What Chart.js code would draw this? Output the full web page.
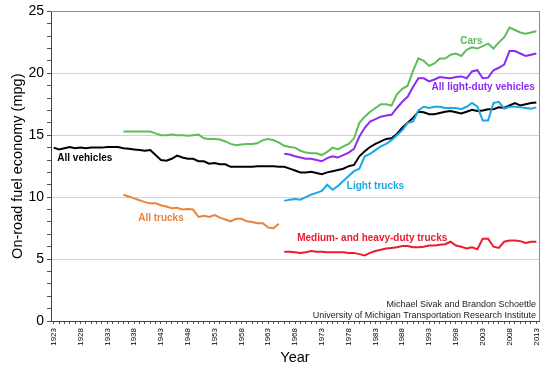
<!DOCTYPE html>
<html>
<head>
<meta charset="utf-8">
<script src="https://cdn.jsdelivr.net/npm/chart.js@4"></script>
<style>
  html, body { margin: 0; padding: 0; background: #fff; }
  canvas { display: block; }
</style>
</head>
<body>
<canvas id="myChart" width="550" height="370"></canvas>
<script>
const years = [];
for (let y = 1923; y <= 2013; y++) years.push(y);

const xTickLabels = [1923, 1928, 1933, 1938, 1943, 1948, 1953, 1958, 1963, 1968,
    1973, 1978, 1983, 1988, 1993, 1998, 2003, 2008, 2013];
const yTickLabels = [0, 5, 10, 15, 20, 25];

// 1923-2013
const allVehicles = [
    14.0, 13.85, 13.95, 14.05, 13.95, 14.0, 13.95, 14.0, 14.0, 14.0,
    14.05, 14.05, 14.05, 13.95, 13.9, 13.85, 13.8, 13.75, 13.8, 13.4,
    13.0, 12.95, 13.1, 13.35, 13.2, 13.1, 13.1, 12.9, 12.9, 12.7,
    12.75, 12.65, 12.65, 12.45, 12.45, 12.45, 12.45, 12.45, 12.5, 12.5,
    12.5, 12.5, 12.45, 12.45, 12.3, 12.15, 12.0, 12.0, 12.05, 11.95,
    11.85, 12.0, 12.1, 12.2, 12.3, 12.5, 12.6, 13.3, 13.7, 14.05,
    14.3, 14.5, 14.7, 14.75, 15.1, 15.6, 16.0, 16.4, 16.9, 16.85,
    16.7, 16.7, 16.8, 16.9, 16.95, 16.85, 16.75, 16.9, 17.05, 16.95,
    17.0, 17.1, 17.1, 17.25, 17.2, 17.4, 17.6, 17.4, 17.5, 17.6,
    17.65
];

// 1936-2013
const cars = [
    15.3, 15.3, 15.3, 15.3, 15.3, 15.3, 15.15, 15.0, 15.0, 15.05,
    15.0, 15.0, 14.95, 15.0, 15.05, 14.75, 14.7, 14.7, 14.65, 14.5,
    14.3, 14.2, 14.25, 14.3, 14.3, 14.35, 14.6, 14.7, 14.6, 14.4,
    14.15, 14.05, 14.0, 13.75, 13.6, 13.55, 13.55, 13.4, 13.65, 14.0,
    13.85, 14.1, 14.3, 14.75, 16.0, 16.5, 16.9, 17.2, 17.5, 17.5,
    17.4, 18.3, 18.75, 19.0, 20.2, 21.2, 21.0, 20.6, 20.8, 21.2,
    21.2, 21.5, 21.6, 21.4, 21.9, 22.1, 22.0, 22.2, 22.4, 22.0,
    22.5, 22.9, 23.7, 23.5, 23.3, 23.2, 23.3, 23.4
];

// 1936-1965
const allTrucks = [
    10.2, 10.05, 9.9, 9.75, 9.6, 9.5, 9.5, 9.35, 9.25, 9.1,
    9.15, 9.0, 9.05, 9.0, 8.4, 8.5, 8.4, 8.55, 8.35, 8.2,
    8.05, 8.25, 8.25, 8.05, 8.0, 7.9, 7.9, 7.55, 7.5, 7.85
];

// 1966-2013
const lightDuty = [
    13.5, 13.45, 13.3, 13.2, 13.1, 13.1, 13.0, 12.9, 13.15, 13.3,
    13.2, 13.4, 13.6, 13.9, 14.9, 15.6, 16.1, 16.3, 16.5, 16.6,
    16.65, 17.2, 17.7, 18.1, 18.9, 19.6, 19.6, 19.35, 19.5, 19.7,
    19.65, 19.6, 19.7, 19.75, 19.6, 20.15, 20.25, 19.6, 19.65, 20.25,
    20.45, 20.7, 21.8, 21.8, 21.6, 21.4, 21.5, 21.6
];

// 1966-2013
const lightTrucks = [
    9.7, 9.8, 9.85, 9.8, 10.0, 10.2, 10.35, 10.5, 11.0, 10.6,
    10.9, 11.3, 11.7, 12.1, 12.3, 13.3, 13.5, 13.8, 14.1, 14.3,
    14.6, 15.0, 15.4, 16.0, 16.1, 17.0, 17.3, 17.2, 17.3, 17.3,
    17.2, 17.2, 17.2, 17.1, 17.3, 17.6, 17.3, 16.2, 16.2, 17.6,
    17.7, 17.15, 17.3, 17.3, 17.25, 17.2, 17.15, 17.25
];

// 1966-2013
const heavyTrucks = [
    5.6, 5.6, 5.55, 5.5, 5.55, 5.65, 5.6, 5.6, 5.55, 5.55,
    5.55, 5.55, 5.5, 5.5, 5.4, 5.3, 5.5, 5.65, 5.75, 5.85,
    5.9, 5.95, 6.05, 6.05, 5.95, 5.95, 6.0, 6.1, 6.1, 6.15,
    6.2, 6.4, 6.1, 6.0, 5.85, 5.95, 5.8, 6.65, 6.65, 6.0,
    5.9, 6.4, 6.5, 6.5, 6.45, 6.3, 6.4, 6.4
];

// pad a series that starts at startYear so it lines up with the year labels
function fromYear(startYear, values) {
    const out = years.map(() => null);
    values.forEach((v, i) => { out[startYear - years[0] + i] = v; });
    return out;
}

const FONT = '"Liberation Sans", Arial, Helvetica, sans-serif';

function series(label, startYear, values, color) {
    return {
        label: label,
        data: fromYear(startYear, values),
        borderColor: color,
        backgroundColor: color,
        borderWidth: 2,
        pointRadius: 0,
        tension: 0,
        spanGaps: false
    };
}

const data = {
    labels: years,
    datasets: [
        series('All trucks', 1936, allTrucks, '#e8853d'),
        series('Medium- and heavy-duty trucks', 1966, heavyTrucks, '#ec1c2e'),
        series('Light trucks', 1966, lightTrucks, '#1aa9e6'),
        series('All vehicles', 1923, allVehicles, '#000000'),
        series('All light-duty vehicles', 1966, lightDuty, '#8b2cf5'),
        series('Cars', 1936, cars, '#5cbd5a')
    ]
};

// labels on the lines, placed in data units (year, mpg)
const lineLabels = [
    { text: 'All vehicles', year: 1928.8, mpg: 13.15, color: '#000000' },
    { text: 'All trucks', year: 1943.0, mpg: 8.3, color: '#e8853d' },
    { text: 'Cars', year: 2000.9, mpg: 22.6, color: '#5cbd5a' },
    { text: 'All light-duty vehicles', year: 2003.1, mpg: 18.9, color: '#8b2cf5' },
    { text: 'Light trucks', year: 1983.0, mpg: 10.9, color: '#1aa9e6' },
    { text: 'Medium- and heavy-duty trucks', year: 1982.4, mpg: 6.7, color: '#ec1c2e' }
];

const decorations = {
    id: 'decorations',
    afterDatasetsDraw(chart) {
        const { ctx, chartArea: a, scales } = chart;
        ctx.save();
        // frame on top and right
        ctx.strokeStyle = '#8a8a8a';
        ctx.lineWidth = 1;
        ctx.beginPath();
        ctx.moveTo(a.left, Math.round(a.top) + 0.5);
        ctx.lineTo(Math.round(a.right) + 0.5, Math.round(a.top) + 0.5);
        ctx.lineTo(Math.round(a.right) + 0.5, a.bottom);
        ctx.stroke();

        ctx.font = 'bold 10px ' + FONT;
        ctx.textAlign = 'center';
        ctx.textBaseline = 'middle';
        lineLabels.forEach(l => {
            ctx.fillStyle = l.color;
            ctx.fillText(l.text, scales.x.getPixelForValue(l.year - years[0]), scales.y.getPixelForValue(l.mpg));
        });

        ctx.font = '9px ' + FONT;
        ctx.fillStyle = '#222';
        ctx.textAlign = 'right';
        ctx.textBaseline = 'alphabetic';
        ctx.fillText('Michael Sivak and Brandon Schoettle', a.right - 3, a.bottom - 14);
        ctx.fillText('University of Michigan Transportation Research Institute', a.right - 3, a.bottom - 3.5);
        ctx.restore();
    }
};

const config = {
    type: 'line',
    data: data,
    options: {
        responsive: false,
        animation: false,
        layout: { padding: { top: 9, right: 9, left: 0, bottom: 0 } },
        plugins: {
            legend: { display: false },
            tooltip: { enabled: false }
        },
        scales: {
            x: {
                type: 'category',
                offset: true,
                grid: {
                    drawOnChartArea: false,
                    offset: false,
                    tickLength: 3,
                    color: '#555'
                },
                border: { color: '#444', width: 1 },
                ticks: {
                    autoSkip: false,
                    maxRotation: 90,
                    minRotation: 90,
                    padding: 4,
                    color: '#000',
                    font: { family: FONT, size: 8 },
                    callback: (v, i) => xTickLabels.includes(years[i]) ? String(years[i]) : ''
                },
                title: {
                    display: true,
                    text: 'Year',
                    color: '#000',
                    font: { family: FONT, size: 14.5 },
                    padding: { top: 0, bottom: 3 }
                },
                afterFit: (scale) => { scale.height = 49; }
            },
            y: {
                min: 0,
                max: 25,
                grid: {
                    color: (c) => (c.tick && c.tick.value % 5 === 0 && c.tick.value > 0 && c.tick.value < 25) ? '#d2d2d2' : 'rgba(0,0,0,0)',
                    tickColor: '#555',
                    tickLength: 4
                },
                border: { color: '#444', width: 1 },
                ticks: {
                    stepSize: 1,
                    autoSkip: false,
                    padding: 3,
                    color: '#000',
                    font: { family: FONT, size: 14 },
                    callback: (v) => yTickLabels.includes(v) ? String(v) : ''
                },
                title: {
                    display: true,
                    text: 'On-road fuel economy (mpg)',
                    color: '#000',
                    font: { family: FONT, size: 14.5 },
                    padding: { top: 9, bottom: 0 }
                },
                afterFit: (scale) => { scale.width = 51; }
            }
        }
    },
    plugins: [decorations]
};

const myChart = new Chart(document.getElementById('myChart'), config);
</script>
</body>
</html>
